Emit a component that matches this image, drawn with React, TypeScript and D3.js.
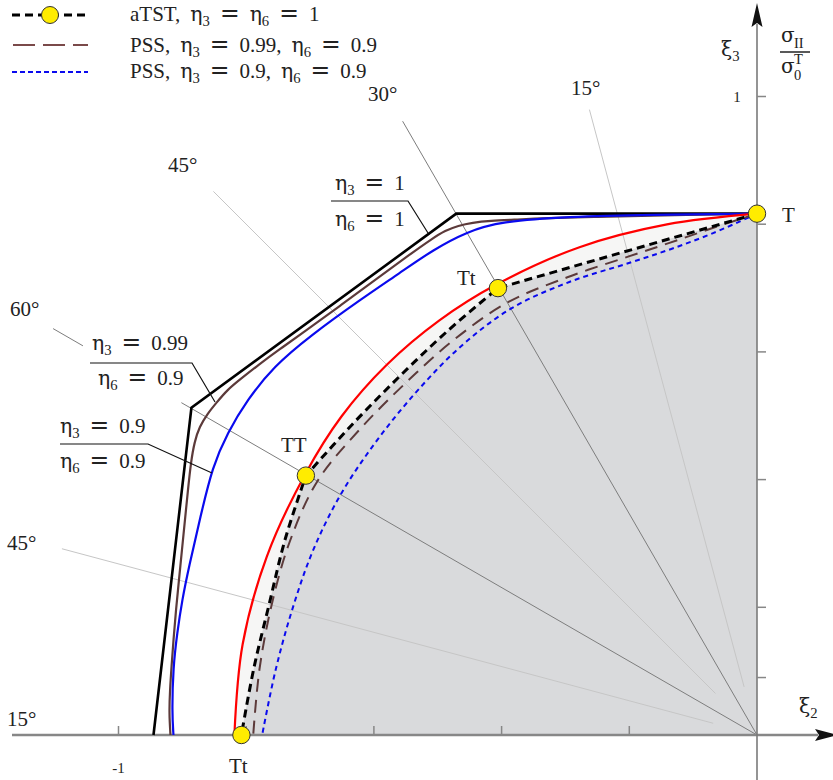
import React from 'react';
import * as d3 from 'd3';

const WIDTH = 833;
const HEIGHT = 780;
const SERIF = '"Liberation Serif", "Times New Roman", Times, serif';
const MATH = '"DejaVu Serif", "Liberation Serif", serif';
const INK = '#222';

// Origin of the deviatoric plane and the length of one unit on both axes
const ORIGIN_X = 757;
const ORIGIN_Y = 735;
const UNIT = 638.5;

const x = d3.scaleLinear().domain([-1, 0]).range([ORIGIN_X - UNIT, ORIGIN_X]);
const y = d3.scaleLinear().domain([0, 1]).range([ORIGIN_Y, ORIGIN_Y - UNIT]);
const r = d3.scaleLinear().domain([0, 1]).range([0, UNIT]);

// Axis ticks
const xTickValues = [-1, -0.8, -0.6, -0.4, -0.2];
const yTickValues = [0.09, 0.2, 0.4, 0.6, 0.8, 1];
const xTickLabelValues = [-1];
const xTickLabelTexts = ['-1'];
const yTickLabelValues = [1];
const yTickLabelTexts = ['1'];

// Inner surfaces, polar: angle from the ξ3 axis (deg) and radius
const atstAngles = [0, 30.1, 37.5, 45, 52.5, 60.1, 67.5, 75, 82.5, 90];
const atstRadii = [0.8165, 0.809, 0.797, 0.793, 0.799, 0.815, 0.8, 0.791, 0.795, 0.8075];
const atstBreaks = [0, 1, 5, 9];

const redAngles = [0, 10, 20, 30, 37.5, 45, 52.5, 60, 70, 80, 90];
const redRadii = [0.8165, 0.812, 0.813, 0.815, 0.818, 0.82, 0.82, 0.817, 0.817, 0.818, 0.8185];

const pssAngles = [0, 5, 10, 15, 22.5, 30, 37.5, 45, 52.5, 60, 67.5, 75, 82.5, 90];
const pss099Radii = [0.8165, 0.797, 0.783, 0.776, 0.776, 0.782, 0.78, 0.779, 0.785, 0.795, 0.792, 0.787, 0.786, 0.789];
const pss09Radii = [0.8165, 0.789, 0.773, 0.766, 0.768, 0.771, 0.765, 0.757, 0.753, 0.753, 0.753, 0.754, 0.761, 0.775];

// Characteristic points T, Tt, TT, Tt
const pointAngles = [0, 30.1, 60.1, 90];
const pointRadii = [0.8165, 0.809, 0.815, 0.8075];

// Outer surfaces, cartesian (ξ2, ξ3)
const outerEta1: [number, number][] = [
  [-0.9452, 0], [-0.8858, 0.5125], [-0.471, 0.8165], [0, 0.8165],
];
const outerEta099: [number, number][] = [
  [-0.9186, 0], [-0.9207, 0.0345], [-0.9194, 0.0705], [-0.917, 0.1066], [-0.9139, 0.1489],
  [-0.91, 0.1959], [-0.9053, 0.2429], [-0.9006, 0.29], [-0.8959, 0.337], [-0.8912, 0.384],
  [-0.8865, 0.4279], [-0.881, 0.4592], [-0.8732, 0.4828], [-0.8607, 0.5031], [-0.8466, 0.5204],
  [-0.8294, 0.5408], [-0.8091, 0.5572], [-0.7825, 0.5784], [-0.7465, 0.605], [-0.7152, 0.6269],
  [-0.6526, 0.6724], [-0.59, 0.7186], [-0.543, 0.7531], [-0.5086, 0.7774], [-0.4883, 0.79],
  [-0.4679, 0.7978], [-0.446, 0.8025], [-0.4178, 0.8053], [-0.3787, 0.8072], [-0.3318, 0.8096],
  [-0.2535, 0.8115], [-0.1831, 0.8131], [0, 0.8165],
];
const outerEta09: [number, number][] = [
  [-0.9139, 0], [-0.9162, 0.0345], [-0.9144, 0.1066], [-0.9081, 0.1599], [-0.9003, 0.2116],
  [-0.8897, 0.2633], [-0.8717, 0.3417], [-0.8529, 0.4201], [-0.8294, 0.4734], [-0.7981, 0.5251],
  [-0.7574, 0.5768], [-0.6995, 0.6254], [-0.6213, 0.6818], [-0.5587, 0.7241], [-0.507, 0.7602],
  [-0.4538, 0.7884], [-0.4022, 0.8041], [-0.2973, 0.8119], [-0.1674, 0.815], [0, 0.8165],
];

// Meridian rays: angle from the ξ3 axis and radial extent
const rayAngles = [15, 30, 45, 60, 75];
const rayStart = [0.078, 0, 0.092, 0, 0.071];
const rayEnd = [1.014, 1.11, 1.204, 1.273, 1.127];
const rayDark = [false, true, false, true, false];
// the 60° ray is interrupted by the η-labels
const rayGapFrom = [null, null, null, 1.041, null];
const rayGapTo = [null, null, null, 1.219, null];

type Polar = [number, number];
const zip = (a: number[], b: number[]): Polar[] => a.map((v, i) => [v, b[i]]);
const toAngle = (deg: number) => (-deg * Math.PI) / 180;

const smooth = d3.curveCatmullRom.alpha(0.5);

const radialPath = (pts: Polar[], curve: d3.CurveFactory) =>
  d3.lineRadial<Polar>().angle((p) => toAngle(p[0])).radius((p) => r(p[1])).curve(curve)(pts) || '';

function piecewiseRadial(pts: Polar[], breaks: number[]): string {
  let d = '';
  for (let k = 0; k < breaks.length - 1; k++) {
    const seg = pts.slice(breaks[k], breaks[k + 1] + 1);
    const p = radialPath(seg, seg.length > 2 ? smooth : d3.curveLinear);
    d += k === 0 ? p : p.replace(/^M/, 'L');
  }
  return d;
}

const cartPath = (pts: [number, number][], curve: d3.CurveFactory) =>
  d3.line<[number, number]>().x((p) => x(p[0])).y((p) => y(p[1])).curve(curve)(pts) || '';

type Tok = { t: string; sub?: boolean; gap?: number; math?: boolean; rel?: boolean };

function Formula({ px, py, toks, size = 21 }: { px: number; py: number; toks: Tok[]; size?: number }) {
  let level = 0;
  const spans = toks.map((tk, i) => {
    const target = tk.sub ? size * 0.26 : 0;
    const dy = target - level;
    level = target;
    let fs: number | undefined;
    if (tk.sub) fs = size * 0.7;
    else if (tk.rel) fs = size * 1.12;
    else if (tk.math) fs = size * 0.97;
    return (
      <tspan key={i} dy={dy !== 0 ? dy : undefined} dx={tk.gap}
        fontFamily={tk.math || tk.rel ? MATH : undefined} fontSize={fs}>
        {tk.t}
      </tspan>
    );
  });
  return (
    <text x={px} y={py} fontSize={size} fontFamily={SERIF} fill={INK} style={{ whiteSpace: 'pre' }}>
      {spans}
    </text>
  );
}

const G = 10;
const EQ: Tok = { t: '=', gap: G, rel: true };
const eta = (sub: string, rhs: string): Tok[] => [
  { t: 'η', math: true }, { t: sub, sub: true }, EQ, { t: rhs, gap: G },
];

export default function App() {
  const atst = zip(atstAngles, atstRadii);
  const atstD = piecewiseRadial(atst, atstBreaks);
  const redD = radialPath(zip(redAngles, redRadii), smooth);
  const pss099D = radialPath(zip(pssAngles, pss099Radii), smooth);
  const pss09D = radialPath(zip(pssAngles, pss09Radii), smooth);

  const points = zip(pointAngles, pointRadii).map((p) => d3.pointRadial(toAngle(p[0]), r(p[1])));

  const rays: { a: number; from: number; to: number; dark: boolean }[] = [];
  rayAngles.forEach((a, i) => {
    const g0 = rayGapFrom[i];
    const g1 = rayGapTo[i];
    if (g0 != null && g1 != null) {
      rays.push({ a, from: rayStart[i], to: g0, dark: rayDark[i] });
      rays.push({ a, from: g1, to: rayEnd[i], dark: rayDark[i] });
    } else {
      rays.push({ a, from: rayStart[i], to: rayEnd[i], dark: rayDark[i] });
    }
  });

  const legendY = [15, 45, 72];

  return (
    <svg width={WIDTH} height={HEIGHT} style={{ position: 'absolute', left: 0, top: 0 }} fontFamily={SERIF}>
      <rect width={WIDTH} height={HEIGHT} fill="#fff" />

      {/* regions enclosed by the inner surfaces */}
      <g transform={`translate(${ORIGIN_X},${ORIGIN_Y})`}>
        <path d={`M0,0L${redD.slice(1)}Z`} fill="#f6f6f5" />
        <path d={`M0,0L${atstD.slice(1)}Z`} fill="#d9dadc" />
        {rays.map((ry, i) => {
          const p0 = d3.pointRadial(toAngle(ry.a), r(ry.from));
          const p1 = d3.pointRadial(toAngle(ry.a), r(ry.to));
          return (
            <line key={i} x1={p0[0]} y1={p0[1]} x2={p1[0]} y2={p1[1]}
              stroke={ry.dark ? '#7d7d7d' : '#c6c6c6'} strokeWidth={1} />
          );
        })}
      </g>

      {/* axes */}
      <line x1={12} x2={818} y1={ORIGIN_Y} y2={ORIGIN_Y} stroke="#878787" strokeWidth={2.5} />
      <path d={`M838,${ORIGIN_Y} L815,${ORIGIN_Y - 6} L819,${ORIGIN_Y} L815,${ORIGIN_Y + 6} Z`} fill="#111" />
      <line x1={ORIGIN_X} x2={ORIGIN_X} y1={HEIGHT} y2={24} stroke="#7a7a7a" strokeWidth={1.6} />
      <path d={`M${ORIGIN_X},3 L${ORIGIN_X + 5.5},27 L${ORIGIN_X},23 L${ORIGIN_X - 5.5},27 Z`} fill="#111" />
      {xTickValues.map((v) => (
        <line key={`xt${v}`} x1={x(v)} x2={x(v)} y1={ORIGIN_Y} y2={ORIGIN_Y - 9} stroke="#878787" strokeWidth={1.5} />
      ))}
      {yTickValues.map((v) => (
        <line key={`yt${v}`} x1={ORIGIN_X} x2={ORIGIN_X + 9} y1={y(v)} y2={y(v)} stroke="#878787" strokeWidth={1.5} />
      ))}
      {xTickLabelValues.map((v, i) => (
        <text key={`xl${v}`} x={x(v)} y={773} fontSize={15} textAnchor="middle" fill={INK}>{xTickLabelTexts[i]}</text>
      ))}
      {yTickLabelValues.map((v, i) => (
        <text key={`yl${v}`} x={737} y={y(v) + 5} fontSize={15} textAnchor="middle" fill={INK}>{yTickLabelTexts[i]}</text>
      ))}

      {/* axis titles */}
      <Formula px={799} py={713} toks={[{ t: 'ξ', math: true }, { t: '2', sub: true }]} />
      <Formula px={721} py={56} toks={[{ t: 'ξ', math: true }, { t: '3', sub: true }]} />
      {/* σII / σ0T */}
      <text x={781} y={42} fontSize={20} fontFamily={MATH} fill={INK}>σ</text>
      <text x={794} y={47.5} fontSize={14.5} fill={INK}>II</text>
      <line x1={780} x2={810} y1={52} y2={52} stroke={INK} strokeWidth={1.5} />
      <text x={781} y={73} fontSize={20} fontFamily={MATH} fill={INK}>σ</text>
      <text x={794} y={64} fontSize={14.5} fill={INK}>T</text>
      <text x={794} y={80} fontSize={14.5} fill={INK}>0</text>

      {/* outer surfaces */}
      <path d={cartPath(outerEta1, d3.curveLinear)} fill="none" stroke="#000" strokeWidth={2.6} strokeLinejoin="miter" />
      <path d={cartPath(outerEta099, d3.curveBasis)} fill="none" stroke="#5c3a3a" strokeWidth={2.2} />
      <path d={cartPath(outerEta09, d3.curveBasis)} fill="none" stroke="#0a0aee" strokeWidth={2.2} />

      {/* leaders for the η labels */}
      <path d="M331,201 L408,201 L428,233" fill="none" stroke="#111" strokeWidth={1.2} />
      <path d="M90,363 L192,363 L215,402" fill="none" stroke="#111" strokeWidth={1.2} />
      <path d="M60,444 L148,444 L212,473" fill="none" stroke="#111" strokeWidth={1.2} />

      {/* inner surfaces */}
      <g transform={`translate(${ORIGIN_X},${ORIGIN_Y})`}>
        <path d={redD} fill="none" stroke="#ff0000" strokeWidth={2.2} />
        <path d={pss09D} fill="none" stroke="#0a0aee" strokeWidth={2} strokeDasharray="5,4" />
        <path d={pss099D} fill="none" stroke="#5c3a3a" strokeWidth={2} strokeDasharray="13,8" />
        <path d={atstD} fill="none" stroke="#000" strokeWidth={3} strokeDasharray="8,5" />
        {points.map((p, i) => (
          <circle key={i} cx={p[0]} cy={p[1]} r={8.7} fill="#ffec00" stroke="#333" strokeWidth={1} />
        ))}
      </g>

      {/* point names */}
      <text x={782} y={222} fontSize={21} fill={INK}>T</text>
      <text x={457} y={285} fontSize={21} fill={INK}>Tt</text>
      <text x={281} y={452} fontSize={21} fill={INK}>TT</text>
      <text x={229} y={773} fontSize={21} fill={INK}>Tt</text>

      {/* meridian angles */}
      <text x={571} y={95} fontSize={21} fill={INK}>15°</text>
      <text x={368} y={101} fontSize={21} fill={INK}>30°</text>
      <text x={168} y={172} fontSize={21} fill={INK}>45°</text>
      <text x={10} y={316} fontSize={21} fill={INK}>60°</text>
      <text x={7} y={550} fontSize={21} fill={INK}>45°</text>
      <text x={7} y={726} fontSize={21} fill={INK}>15°</text>

      {/* η labels */}
      <Formula px={335} py={190} toks={eta('3', '1')} />
      <Formula px={335} py={226} toks={eta('6', '1')} />
      <Formula px={92} py={350} toks={eta('3', '0.99')} />
      <Formula px={98} py={385} toks={eta('6', '0.9')} />
      <Formula px={60} py={433} toks={eta('3', '0.9')} />
      <Formula px={60} py={468} toks={eta('6', '0.9')} />

      {/* legend */}
      <line x1={12} x2={88} y1={legendY[0]} y2={legendY[0]} stroke="#000" strokeWidth={3} strokeDasharray="8,5" />
      <circle cx={50} cy={legendY[0]} r={8.5} fill="#ffec00" stroke="#333" strokeWidth={1} />
      <line x1={13} x2={88} y1={legendY[1]} y2={legendY[1]} stroke="#7a4a4a" strokeWidth={2} strokeDasharray="22,8" />
      <line x1={12} x2={88} y1={legendY[2]} y2={legendY[2]} stroke="#0a0aee" strokeWidth={2} strokeDasharray="5,3" />
      <Formula px={130} py={21}
        toks={[{ t: 'aTST,' }, { t: 'η', math: true, gap: 10 }, { t: '3', sub: true }, EQ, { t: 'η', gap: G, math: true }, { t: '6', sub: true }, EQ, { t: '1', gap: G }]} />
      <Formula px={130} py={52}
        toks={[{ t: 'PSS,' }, { t: 'η', math: true, gap: 10 }, { t: '3', sub: true }, EQ, { t: '0.99,', gap: G }, { t: 'η', math: true, gap: 10 }, { t: '6', sub: true }, EQ, { t: '0.9', gap: G }]} />
      <Formula px={130} py={78}
        toks={[{ t: 'PSS,' }, { t: 'η', math: true, gap: 10 }, { t: '3', sub: true }, EQ, { t: '0.9,', gap: G }, { t: 'η', math: true, gap: 10 }, { t: '6', sub: true }, EQ, { t: '0.9', gap: G }]} />
    </svg>
  );
}
